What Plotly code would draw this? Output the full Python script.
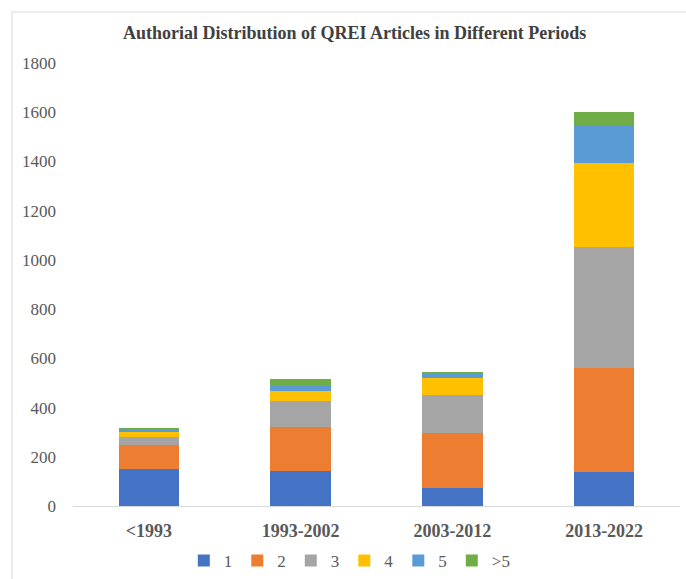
import plotly.graph_objects as go

# periods on the x axis
periods = ['<1993', '1993-2002', '2003-2012', '2013-2022']

# number of articles per author-count group
one_author = [149, 143, 74, 138]
two_authors = [100, 179, 224, 423]
three_authors = [31, 103, 153, 493]
four_authors = [22, 42, 68, 341]
five_authors = [7, 19, 19, 153]
more_authors = [5, 30, 6, 52]

series = [('1', one_author, '#4472C4'),
          ('2', two_authors, '#ED7D31'),
          ('3', three_authors, '#A5A5A5'),
          ('4', four_authors, '#FFC000'),
          ('5', five_authors, '#5B9BD5'),
          ('>5', more_authors, '#70AD47')]

font_name = 'Liberation Serif'
grey = '#595959'

fig = go.Figure()
for name, vals, col in series:
    fig.add_trace(go.Bar(x=periods, y=vals, name=name, width=0.4,
                         marker=dict(color=col, line=dict(width=0))))

fig.update_layout(
    barmode='stack',
    width=686, height=579,
    margin=dict(l=73, r=6, t=63, b=73),
    plot_bgcolor='white', paper_bgcolor='white',
    font=dict(family=font_name, size=17, color=grey),
    title=dict(text='<b>Authorial Distribution of QREI Articles in Different Periods</b>',
               x=0.517, xanchor='center', y=1 - 33 / 579, yanchor='middle',
               font=dict(family=font_name, size=18, color='#404040')),
    legend=dict(orientation='h', xref='paper', x=0.456, xanchor='center',
                yref='container', y=1 - 561 / 579, yanchor='middle',
                font=dict(family=font_name, size=17, color=grey),
                itemwidth=30, traceorder='normal'),
    showlegend=True,
)

fig.update_xaxes(showline=True, linecolor='#D9D9D9', linewidth=1, ticks='',
                 tickfont=dict(family=font_name, size=18, color=grey),
                 ticklabelstandoff=8, automargin=False)
fig.update_yaxes(range=[0, 1800], dtick=200, showgrid=False, zeroline=False,
                 showline=False, ticks='', ticklabelstandoff=16, automargin=False,
                 tickfont=dict(family=font_name, size=17, color=grey))

# category labels are bold in the original
fig.update_xaxes(tickvals=periods, ticktext=['<b>' + p.replace('<', '&lt;') + '</b>' for p in periods])

# light frame around the chart area (right/bottom edges fall outside the image)
fig.add_shape(type='rect', xref='paper', yref='paper',
              x0=(12 - 73) / 607, x1=1.2, y0=-0.5, y1=(506 - 12) / 443,
              line=dict(color='#D9D9D9', width=1), fillcolor='rgba(0,0,0,0)', layer='below')

# drop the default page margin so the figure sits at the window corner
fig.write_html('out.html', config={'displayModeBar': False},
               post_script="document.body.style.margin='0';")
